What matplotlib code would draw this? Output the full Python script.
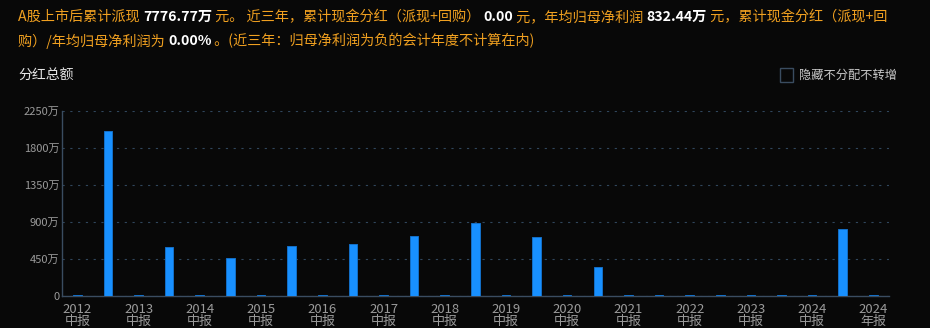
import numpy as np
import matplotlib.pyplot as plt
from matplotlib.patches import Rectangle

plt.rcParams['font.family'] = ['Noto Sans CJK SC', 'DejaVu Sans']

# periods (every other one labelled on the axis)
periods = ['2012\n中报', '2012年报', '2013\n中报', '2013年报', '2014\n中报', '2014年报',
           '2015\n中报', '2015年报', '2016\n中报', '2016年报', '2017\n中报', '2017年报',
           '2018\n中报', '2018年报', '2019\n中报', '2019年报', '2020\n中报', '2020年报',
           '2021\n中报', '2021年报', '2022\n中报', '2022年报', '2023\n中报', '2023年报',
           '2024\n中报', '2024年报', '2024\n年报']
# dividend total, 万元
values = [16, 2010, 16, 594, 16, 462, 16, 612, 16, 636, 16, 733, 16, 895, 16, 717, 16, 360,
          16, 16, 16, 16, 16, 16, 16, 815, 16]
yticks = [0, 450, 900, 1350, 1800, 2250]
ytick_labels = ['0', '450万', '900万', '1350万', '1800万', '2250万']

bg = '#080808'
orange = '#f0a020'
W, H = 930, 328

fig = plt.figure(figsize=(W / 100, H / 100), dpi=100, facecolor=bg)
ax = fig.add_axes([62 / W, (H - 296.3) / H, (888.7 - 62) / W, 185 / H])
ax.set_facecolor(bg)

x = np.arange(len(periods))
ax.bar(x, values, width=0.28, color='#1890ff', edgecolor='#1470c8', linewidth=0.7, zorder=3)

ax.set_xlim(-0.5, len(periods) - 0.5)
ax.set_ylim(0, 2250)
ax.set_yticks(yticks)
ax.set_yticklabels(ytick_labels)
ax.set_xticks(x[::2])
ax.set_xticklabels([periods[i] for i in x[::2]], linespacing=0.95)
ax.tick_params(axis='x', colors='#9a9a9a', labelsize=9.4, length=0, pad=4.5)
ax.tick_params(axis='y', colors='#9a9a9a', labelsize=8, length=0, pad=2)
ax.grid(axis='y', color='#30465c', linestyle=(0, (2, 5)), linewidth=0.8, zorder=0)
for s in ['top', 'right']:
    ax.spines[s].set_visible(False)
for s in ['left', 'bottom']:
    ax.spines[s].set_color('#3a4c60')
    ax.spines[s].set_linewidth(1)

# header text with mixed styles
renderer = fig.canvas.get_renderer()


def put_line(pieces, y):
    px = 18
    for txt, col, bold in pieces:
        t = fig.text(px / W, 1 - y / H, txt, color=col, fontsize=10.2,
                     fontweight='bold' if bold else 'normal', va='center', ha='left')
        bb = t.get_window_extent(renderer)
        px += bb.width


line1 = [('A股上市后累计派现 ', orange, False), ('7776.77万', 'white', True),
         (' 元。 近三年，累计现金分红（派现+回购） ', orange, False), ('0.00', 'white', True),
         (' 元，年均归母净利润 ', orange, False), ('832.44万', 'white', True),
         (' 元，累计现金分红（派现+回', orange, False)]
line2 = [('购）/年均归母净利润为 ', orange, False), ('0.00%', 'white', True),
         (' 。(近三年：归母净利润为负的会计年度不计算在内)', orange, False)]
put_line(line1, 17)
put_line(line2, 41)

fig.text(18 / W, 1 - 75 / H, '分红总额', color='#e6e6e6', fontsize=10, va='center')
fig.patches.append(Rectangle((780 / W, 1 - 82 / H), 13 / W, 14 / H, transform=fig.transFigure,
                             facecolor='none', edgecolor='#3a4c60', linewidth=1))
fig.text(799 / W, 1 - 75 / H, '隐藏不分配不转增', color='#c8c8c8', fontsize=8.8, va='center')

fig.savefig('out.png', dpi=100, facecolor=bg)
